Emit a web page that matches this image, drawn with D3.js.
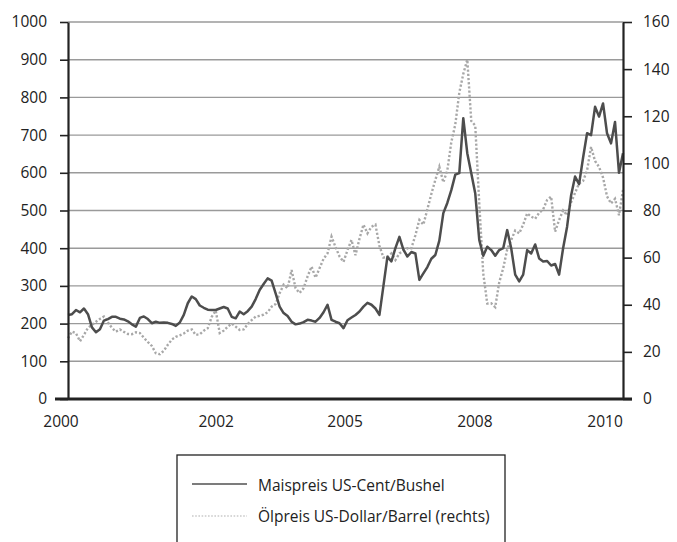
<!DOCTYPE html>
<html>
<head>
<meta charset="utf-8">
<script src="https://cdn.jsdelivr.net/npm/d3@7/dist/d3.min.js"></script>
<style>
  body { margin: 0; background: #fff; }
  text { font-family: "Open Sans", "Noto Sans", sans-serif; fill: #222; }
</style>
</head>
<body>
<script>
// weekly samples (left axis: US-Cent/Bushel, right axis: US-Dollar/Barrel)
var corn = [223,225,236,230,240,225,190,177,185,208,212,218,218,213,211,206,198,192,215,219,
            212,201,205,202,203,202,199,194,203,223,254,272,265,248,242,237,236,236,240,244,
            240,218,214,232,225,233,245,265,289,305,320,314,280,245,228,220,205,198,200,204,
            210,208,205,215,230,250,210,205,201,188,209,216,223,232,245,255,250,240,223,300,
            377,365,400,430,396,378,390,386,316,333,350,372,382,420,493,520,554,595,599,745,
            652,599,545,422,380,404,395,380,395,400,448,400,330,312,330,395,386,410,373,365,
            366,354,358,330,400,457,540,590,570,640,705,700,775,749,784,705,678,735,600,652];

var oil = [25.8,28.6,27.9,24.5,27.2,30.2,31.5,32.8,34,35,32.5,30.2,28.6,29.5,28.5,27.6,27.5,28.3,28,26,
           24.2,22.5,19.4,19,20.5,23,25.2,26.4,27,27.8,29,29.5,27.2,27.5,29,30,34.9,37.5,28,29,
           30.7,32,30.7,29.3,29.5,31.8,33.5,35,35.3,35.8,36.8,39.2,40.3,44.9,48.5,47,54.7,47,45,47,
           52,56.2,51.5,55.5,59.5,61.8,68.9,64.5,60.5,58.2,63.2,67.5,61,68,74,70.3,73.1,74,65,60,
           60.4,61.8,59,61.8,62.8,64,64,69.5,76,74,80.5,87,93,98.6,92,97,109,116.5,130,138,
           144,118,116,83,53.3,40.5,40.6,39,49.5,55.5,63.5,67.5,71.5,70.3,74,78.8,77.4,76.5,79,80.5,
           84.5,85.9,71,76,80,78,83.5,87.5,91.5,92.5,97,107,101,98.5,94,86,83,85,78,88.7];

var leftTicks = [0,100,200,300,400,500,600,700,800,900,1000];
var rightTicks = [0,20,40,60,80,100,120,140,160];
var yearLabels = ["2000","2002","2005","2008","2010"];
var yearAt = [-1.75, 37.1, 69.4, 101.9, 134.5];   // sample index under each label
var legendLabels = ["Maispreis US-Cent\u2215Bushel", "Ölpreis US-Dollar\u2215Barrel (rechts)"];

var width = 677, height = 542;
var plotL = 68, plotR = 623, plotT = 22, plotB = 399;

var svg = d3.select("body").append("svg")
    .attr("width", width)
    .attr("height", height);

var x = d3.scaleLinear().domain([0, corn.length - 1]).range([plotL, plotR]);
var yL = d3.scaleLinear().domain([0, 1000]).range([plotB, plotT]);
var yR = d3.scaleLinear().domain([0, 160]).range([plotB, plotT]);

// grid
svg.append("g").selectAll("line")
    .data(leftTicks.slice(1))
    .enter().append("line")
        .attr("x1", plotL).attr("x2", plotR)
        .attr("y1", function(d) { return yL(d); })
        .attr("y2", function(d) { return yL(d); })
        .attr("stroke", "#9a9a9a")
        .attr("stroke-width", 1.4);

// lines
var cornLine = d3.line()
    .x(function(d, i) { return x(i); })
    .y(function(d) { return yL(d); });
var oilLine = d3.line()
    .x(function(d, i) { return x(i); })
    .y(function(d) { return yR(d); });

svg.append("path")
    .attr("d", oilLine(oil))
    .attr("fill", "none")
    .attr("stroke", "#a8a8a8")
    .attr("stroke-width", 2.4)
    .attr("stroke-dasharray", "2.2,2");

svg.append("path")
    .attr("d", cornLine(corn))
    .attr("fill", "none")
    .attr("stroke", "#4d4d4d")
    .attr("stroke-width", 2.5)
    .attr("stroke-linejoin", "round");

// axes
var axL = svg.append("g")
    .attr("transform", "translate(" + plotL + ",0)")
    .call(d3.axisLeft(yL).tickValues(leftTicks).tickFormat(d3.format("d"))
        .tickSize(8).tickSizeOuter(0).tickPadding(13));
var axR = svg.append("g")
    .attr("transform", "translate(" + plotR + ",0)")
    .call(d3.axisRight(yR).tickValues(rightTicks).tickFormat(d3.format("d"))
        .tickSize(9).tickSizeOuter(0).tickPadding(11));

[axL, axR].forEach(function(ax) {
    ax.select(".domain").attr("stroke", "#222").attr("stroke-width", 2.2);
    ax.selectAll(".tick line").attr("stroke", "#222").attr("stroke-width", 1.6);
    ax.selectAll(".tick text")
        .style("font-family", "'Open Sans', 'Noto Sans', sans-serif")
        .style("font-size", "15.5px")
        .attr("fill", "#222");
});

svg.append("line")
    .attr("x1", 55).attr("x2", 632)
    .attr("y1", plotB).attr("y2", plotB)
    .attr("stroke", "#222")
    .attr("stroke-width", 3);

svg.append("g").selectAll("text")
    .data(yearLabels)
    .enter().append("text")
        .attr("x", function(d, i) { return x(yearAt[i]); })
        .attr("y", 427)
        .attr("text-anchor", "middle")
        .style("font-size", "15.5px")
        .text(function(d) { return d; });

// legend
var lg = svg.append("g");
lg.append("rect")
    .attr("x", 177).attr("y", 455)
    .attr("width", 328).attr("height", 100)
    .attr("fill", "#fff")
    .attr("stroke", "#222")
    .attr("stroke-width", 1.3);

lg.selectAll("line")
    .data(legendLabels)
    .enter().append("line")
        .attr("x1", 192).attr("x2", 247)
        .attr("y1", function(d, i) { return 484 + i * 32; })
        .attr("y2", function(d, i) { return 484 + i * 32; })
        .attr("stroke", function(d, i) { return i ? "#b0b0b0" : "#505050"; })
        .attr("stroke-width", function(d, i) { return i ? 1.2 : 1.6; })
        .attr("stroke-dasharray", function(d, i) { return i ? "1.6,1.6" : null; });

lg.selectAll("text")
    .data(legendLabels)
    .enter().append("text")
        .attr("x", 258)
        .attr("y", function(d, i) { return 491 + i * 31; })
        .style("font-size", "15.5px")
        .text(function(d) { return d; });
</script>
</body>
</html>
